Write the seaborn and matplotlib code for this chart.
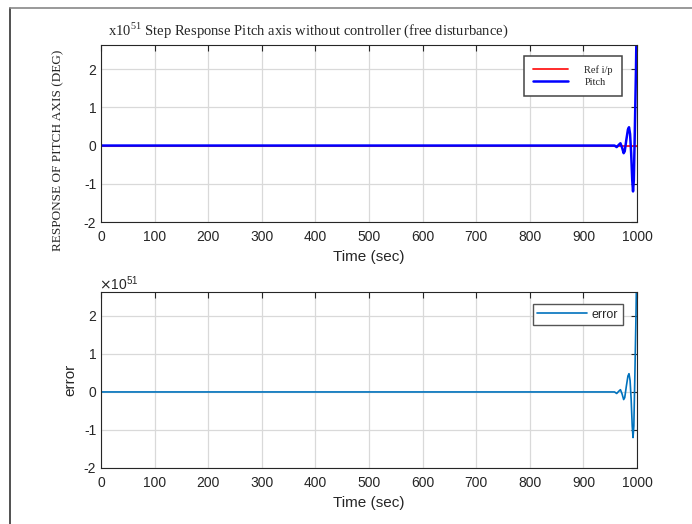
import numpy as np
import pandas as pd
import seaborn as sns
import matplotlib.pyplot as plt
from matplotlib.lines import Line2D

# time (sec) and responses (x10^51)
time = [0, 950, 958, 962, 966, 969, 972, 975, 977, 980, 983, 985, 987,
        989, 991, 992.5, 994, 996, 998, 999]
pitch = [0, 0, 0, -0.04, 0.02, 0.06, -0.05, -0.2, -0.15, 0.15, 0.42, 0.48,
         0.3, -0.2, -0.9, -1.2, -0.9, 0.5, 2.0, 3.0]
ref_input = [0, 0, 0, 0, 0, 0, 0, 0, 0, 0, 0, 0, 0, 0, 0, 0, 0, 0, 0, 0]
error = [0, 0, 0, -0.04, 0.02, 0.06, -0.05, -0.2, -0.15, 0.15, 0.42, 0.48,
         0.3, -0.2, -0.9, -1.2, -0.9, 0.5, 2.0, 3.0]
x_ticks = [0, 100, 200, 300, 400, 500, 600, 700, 800, 900, 1000]
y_ticks = [-2, -1, 0, 1, 2]

df = pd.DataFrame({"Time": time, "Pitch": pitch, "Ref": ref_input, "error": error})

sns.set_style("whitegrid")
plt.rcParams["font.family"] = ["Liberation Sans", "DejaVu Sans"]
plt.rcParams["axes.unicode_minus"] = False

fig = plt.figure(figsize=(6.92, 5.24), dpi=100)
ax1 = fig.add_axes([0.146, 0.5763, 0.7746, 0.3378])
ax2 = fig.add_axes([0.146, 0.1069, 0.7746, 0.3359])

sns.lineplot(data=df, x="Time", y="Ref", ax=ax1, color="#ff1a1a", lw=1.3,
             label="Ref i/p")
sns.lineplot(data=df, x="Time", y="Pitch", ax=ax1, color="#0000ff", lw=1.8,
             label="Pitch")
sns.lineplot(data=df, x="Time", y="error", ax=ax2, color="#0072bd", lw=1.2,
             label="error")

for ax in (ax1, ax2):
    ax.set_xlim(0, 1000)
    ax.set_ylim(-2, 2.63)
    ax.set_xticks(x_ticks)
    ax.set_yticks(y_ticks)
    ax.grid(True, color="#d9d9d9", lw=0.9)
    ax.tick_params(direction="in", length=4, colors="#262626", labelsize=10,
                   top=True, right=True, width=0.8)
    for s in ax.spines.values():
        s.set_color("#262626")
        s.set_linewidth(0.8)
    ax.set_xlabel("Time (sec)", fontsize=11, color="#262626")
    ax.set_ylabel("")
    ax.tick_params(axis="x", pad=6)

leg1 = ax1.legend(loc="upper right", bbox_to_anchor=(0.982, 0.967),
                  prop={"family": "Liberation Serif", "size": 7.5},
                  fancybox=False, edgecolor="#444444", framealpha=1,
                  handlelength=3.3, handletextpad=1.6, borderpad=0.9,
                  labelspacing=0.25)
leg1.get_frame().set_linewidth(1.1)
leg2 = ax2.legend(loc="upper right", bbox_to_anchor=(0.985, 0.965),
                  prop={"size": 9}, fancybox=False, edgecolor="#555555",
                  framealpha=1, handlelength=4.0, handletextpad=0.4,
                  borderpad=0.35)
leg2.get_frame().set_linewidth(1.0)

fig.text(108 / 692, 1 - 30 / 524,
         r"x10$^{\mathregular{51}}$ Step Response Pitch axis without controller (free disturbance)",
         family="Liberation Serif", fontsize=10.5, va="center", ha="left")
fig.text(58 / 692, 1 - 150 / 524, "RESPONSE OF PITCH AXIS (DEG)",
         family="Liberation Serif", fontsize=9.5, rotation=90,
         va="center", ha="center")
fig.text(70 / 692, 1 - 380 / 524, "error", fontsize=11, rotation=90,
         va="center", ha="center", color="#262626")
fig.text(99 / 692, 1 - 284 / 524, r"$\times\mathregular{10^{51}}$",
         fontsize=10, va="center", ha="left", color="#262626")

# page border (left and top)
fig.add_artist(Line2D([10 / 692, 10 / 692], [0, 1 - 8 / 524], color="#333333",
                      lw=1.2, transform=fig.transFigure))
fig.add_artist(Line2D([10 / 692, 1], [1 - 8 / 524, 1 - 8 / 524],
                      color="#888888", lw=1.2, transform=fig.transFigure))

fig.savefig("out.png", dpi=100)
